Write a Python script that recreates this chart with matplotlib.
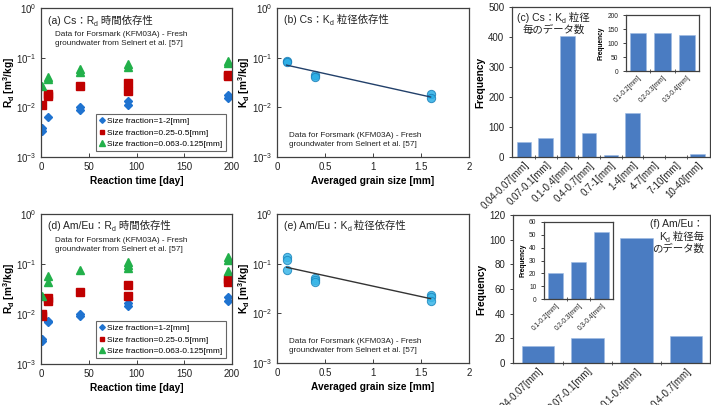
import numpy as np
import matplotlib
matplotlib.use("Agg")
import matplotlib.pyplot as plt
from matplotlib.ticker import FixedLocator, NullLocator, FuncFormatter, LogLocator

FAM = ['Liberation Sans', 'Noto Sans CJK JP']
plt.rcParams['font.family'] = FAM
plt.rcParams['mathtext.default'] = 'regular'
plt.rcParams['axes.unicode_minus'] = True

# ---------------- data ----------------
# (a) Cs Rd vs time
cs_t_12 = [1, 1, 7, 41, 41, 91, 91, 196, 196]
cs_rd_12 = [0.0038, 0.0033, 0.0065, 0.0101, 0.0087, 0.0132, 0.0109, 0.018, 0.0154]
cs_t_025 = [1, 7, 7, 41, 91, 91, 196, 196]
cs_rd_025 = [0.0112, 0.0187, 0.0169, 0.0264, 0.0316, 0.0209, 0.0445, 0.042]
cs_t_006 = [1, 7, 7, 41, 41, 91, 91, 196, 196]
cs_rd_006 = [0.0267, 0.041, 0.037, 0.0596, 0.0525, 0.075, 0.0645, 0.087, 0.079]

# (d) Am/Eu Rd vs time
am_t_12 = [1, 1, 7, 7, 41, 41, 91, 91, 196, 196]
am_rd_12 = [0.0032, 0.0029, 0.0074, 0.0068, 0.010, 0.009, 0.0164, 0.0143, 0.0223, 0.0183]
am_t_025 = [1, 1, 7, 7, 41, 91, 91, 196, 196]
am_rd_025 = [0.0102, 0.0093, 0.021, 0.0183, 0.0273, 0.0384, 0.023, 0.0507, 0.0434]
am_t_006 = [1, 7, 7, 41, 91, 91, 91, 196, 196, 196]
am_rd_006 = [0.023, 0.0582, 0.0434, 0.0757, 0.110, 0.094, 0.084, 0.136, 0.122, 0.0723]

# (b) Cs Kd vs grain size
cs_size = [0.1, 0.1, 0.4, 0.4, 1.6, 1.6]
cs_kd = [0.0875, 0.080, 0.0445, 0.041, 0.0185, 0.0153]
# (e) Am/Eu Kd vs grain size
am_size = [0.1, 0.1, 0.1, 0.4, 0.4, 0.4, 1.6, 1.6, 1.6]
am_kd = [0.136, 0.120, 0.0734, 0.0523, 0.0469, 0.0434, 0.0234, 0.0217, 0.018]

# (c) Cs frequency
cs_bins = ['0.04-0.07[mm]', '0.07-0.1[mm]', '0.1-0.4[mm]', '0.4-0.7[mm]', '0.7-1[mm]',
           '1-4[mm]', '4-7[mm]', '7-10[mm]', '10-40[mm]']
cs_freq = [49, 64, 404, 81, 7, 147, 0, 0, 9]
sub_bins = ['0.1-0.2[mm]', '0.2-0.3[mm]', '0.3-0.4[mm]']
cs_sub_freq = [136, 135, 128]
# (f) Am/Eu frequency
am_bins = ['0.04-0.07[mm]', '0.07-0.1[mm]', '0.1-0.4[mm]', '0.4-0.7[mm]']
am_freq = [14, 20, 101, 22]
am_sub_freq = [20, 29, 52]

legend_labels = ['Size fraction=1-2[mm]', 'Size fraction=0.25-0.5[mm]',
                 'Size fraction=0.063-0.125[mm]']
note = 'Data for Forsmark (KFM03A) - Fresh\ngroundwater from Selnert et al. [57]'

# ---------------- style ----------------
W, H = 711, 405
fig = plt.figure(figsize=(W / 100, H / 100), dpi=100)
SPINE = '#404040'
TICKC = '#222222'
BAR = '#4a7cc2'
C_BLUE, C_RED, C_GREEN = '#1f73d0', '#c00000', '#22b04a'
TICK_FS = 7.0
LAB_FS = 7.3


def px_axes(l, t, r, b):
    return fig.add_axes([l / W, 1 - b / H, (r - l) / W, (b - t) / H])


def style(ax, fs=TICK_FS):
    for s in ax.spines.values():
        s.set_color(SPINE)
        s.set_linewidth(0.9)
    ax.tick_params(direction='in', labelsize=fs, colors=SPINE, labelcolor=TICKC,
                   length=3, width=0.7)


def rich(x, y, parts, ha='left'):
    """parts: (text, size, dy_px) ; x,y in top-based pixels, baseline."""
    r = fig.canvas.get_renderer()
    objs, cur = [], x
    for s, size, dy in parts:
        t = fig.text(cur / W, 1 - (y + dy) / H, s, fontsize=size, va='baseline',
                     ha='left', color='#222222', family=FAM)
        w = t.get_window_extent(r).width
        objs.append(t)
        cur += w
    total = cur - x
    shift = 0
    if ha == 'right':
        shift = -total
    elif ha == 'center':
        shift = -total / 2
    if shift:
        for t in objs:
            px, py = t.get_position()
            t.set_position((px + shift / W, py))
    return total


def time_panel(ax, series):
    markers = ['D', 's', '^']
    colors = [C_BLUE, C_RED, C_GREEN]
    sizes = [4.4, 5.4, 6.0]
    for (t, v), m, c, ms, lab in zip(series, markers, colors, sizes, legend_labels):
        ax.plot(t, v, ls='none', marker=m, color=c, ms=ms, mec=c, label=lab)
    ax.set_yscale('log')
    ax.set_ylim(1e-3, 1)
    ax.set_xlim(0, 200)
    ax.xaxis.set_major_locator(FixedLocator([0, 50, 100, 150, 200]))
    ax.yaxis.set_major_locator(LogLocator(base=10, numticks=10))
    ax.yaxis.set_minor_locator(NullLocator())
    style(ax)
    ax.set_xlabel('Reaction time [day]', fontsize=LAB_FS, fontweight='bold', labelpad=3)
    ax.set_ylabel('R$_d$ [m$^3$/kg]', fontsize=LAB_FS, fontweight='bold')
    ax.yaxis.set_label_coords(-0.128, 0.5)
    leg = ax.legend(loc='lower left', bbox_to_anchor=(0.288, 0.04), fontsize=6.0,
                    frameon=True, fancybox=False, edgecolor=SPINE, handlelength=0.7,
                    handletextpad=0.25, borderpad=0.4, labelspacing=0.4,
                    markerscale=0.65, borderaxespad=0)
    leg.get_frame().set_linewidth(0.8)
    ax.text(0.073, 0.845, note, transform=ax.transAxes, fontsize=5.9, va='top',
            ha='left', color='#222222', linespacing=1.3)


def size_panel(ax, x, y, fc, ec, lc):
    ax.plot(x, y, ls='none', marker='o', ms=6.0, mfc=fc, mec=ec, mew=0.7, alpha=0.85,
            zorder=3)
    k, b = np.polyfit(np.array(x), np.log10(np.array(y)), 1)
    xx = np.linspace(min(x), max(x), 50)
    ax.plot(xx, 10 ** (k * xx + b), color=lc, lw=1.0, zorder=4)
    ax.set_yscale('log')
    ax.set_ylim(1e-3, 1)
    ax.set_xlim(0, 2)
    ax.xaxis.set_major_locator(FixedLocator([0, 0.5, 1, 1.5, 2]))
    ax.xaxis.set_major_formatter(FuncFormatter(lambda v, p: '%g' % v))
    ax.yaxis.set_major_locator(LogLocator(base=10, numticks=10))
    ax.yaxis.set_minor_locator(NullLocator())
    style(ax)
    ax.set_xlabel('Averaged grain size [mm]', fontsize=LAB_FS, fontweight='bold', labelpad=3)
    ax.set_ylabel('K$_d$ [m$^3$/kg]', fontsize=LAB_FS, fontweight='bold')
    ax.yaxis.set_label_coords(-0.128, 0.5)
    ax.text(0.063, 0.165, note, transform=ax.transAxes, fontsize=5.9, va='top',
            ha='left', color='#222222', linespacing=1.3)


def bar_panel(ax, cats, vals, ymax, ystep, fs, rot_fs, lab_fs, width=0.66, xl=None):
    xpos = np.arange(len(cats))
    ax.bar(xpos, vals, width=width, color=BAR, edgecolor='#9dbbe3', linewidth=0.4)
    ax.set_ylim(0, ymax)
    if xl is not None:
        ax.set_xlim(*xl)
    ax.yaxis.set_major_locator(FixedLocator(np.arange(0, ymax + 1, ystep)))
    ax.set_xticks(xpos)
    ax.set_xticklabels(cats, rotation=45, ha='right', rotation_mode='anchor', fontsize=rot_fs)
    ax.xaxis.set_minor_locator(FixedLocator(xpos[:-1] + 0.5))
    style(ax, fs)
    ax.tick_params(axis='x', which='major', length=0, pad=2)
    ax.tick_params(axis='x', which='minor', direction='inout', length=3, width=0.6,
                   colors=SPINE)
    ax.tick_params(axis='y', direction='out', length=2)
    ax.set_ylabel('Frequency', fontsize=lab_fs, fontweight='bold', labelpad=2)


# ---------------- panels ----------------
ax_a = px_axes(41, 8, 232, 157)
time_panel(ax_a, [(cs_t_12, cs_rd_12), (cs_t_025, cs_rd_025), (cs_t_006, cs_rd_006)])
ax_d = px_axes(41, 214, 232, 364)
time_panel(ax_d, [(am_t_12, am_rd_12), (am_t_025, am_rd_025), (am_t_006, am_rd_006)])

ax_b = px_axes(277, 8, 469, 157)
size_panel(ax_b, cs_size, cs_kd, '#2aaee6', '#1b7fb8', '#22406a')
ax_e = px_axes(277, 214, 469, 363)
size_panel(ax_e, am_size, am_kd, '#3bb7e8', '#1b86bd', '#333333')

ax_c = px_axes(512, 7, 710, 157)
bar_panel(ax_c, cs_bins, cs_freq, 500, 100, TICK_FS, 5.5, LAB_FS, xl=(-0.55, 8.57))
ax_ci = px_axes(626, 15, 699, 71)
bar_panel(ax_ci, sub_bins, cs_sub_freq, 200, 50, 4.8, 4.3, 4.8, width=0.68, xl=(-0.5, 2.5))

ax_f = px_axes(513, 215, 710, 363)
bar_panel(ax_f, am_bins, am_freq, 120, 20, TICK_FS, 5.5, LAB_FS, xl=(-0.51, 3.49))
ax_fi = px_axes(544, 222, 613, 299)
bar_panel(ax_fi, sub_bins, am_sub_freq, 60, 10, 4.8, 4.3, 4.8, width=0.68, xl=(-0.5, 2.5))

# ---------------- titles ----------------
fig.canvas.draw()
TS, SS = 7.5, 5.0
rich(48, 24, [('(a) Cs：R', TS, 0), ('d', SS, 2), (' 時間依存性', TS, 0)])
rich(284, 23, [('(b) Cs：K', TS, 0), ('d', SS, 2), (' 粒径依存性', TS, 0)])
w1 = rich(517, 21, [('(c) Cs：K', TS, 0), ('d', SS, 2), (' 粒径', TS, 0)])
rich(517 + w1 / 2, 33, [('毎のデータ数', TS, 0)], ha='center')
rich(48, 229, [('(d) Am/Eu：R', TS, 0), ('d', SS, 2), (' 時間依存性', TS, 0)])
rich(284, 229, [('(e) Am/Eu：K', TS, 0), ('d', SS, 2), (' 粒径依存性', TS, 0)])
rich(704, 227, [('(f) Am/Eu：', TS, 0)], ha='right')
rich(704, 240, [('K', TS, 0), ('d', SS, 2), (' 粒径毎', TS, 0)], ha='right')
rich(704, 252, [('のデータ数', TS, 0)], ha='right')

fig.savefig('out.png', dpi=100)
